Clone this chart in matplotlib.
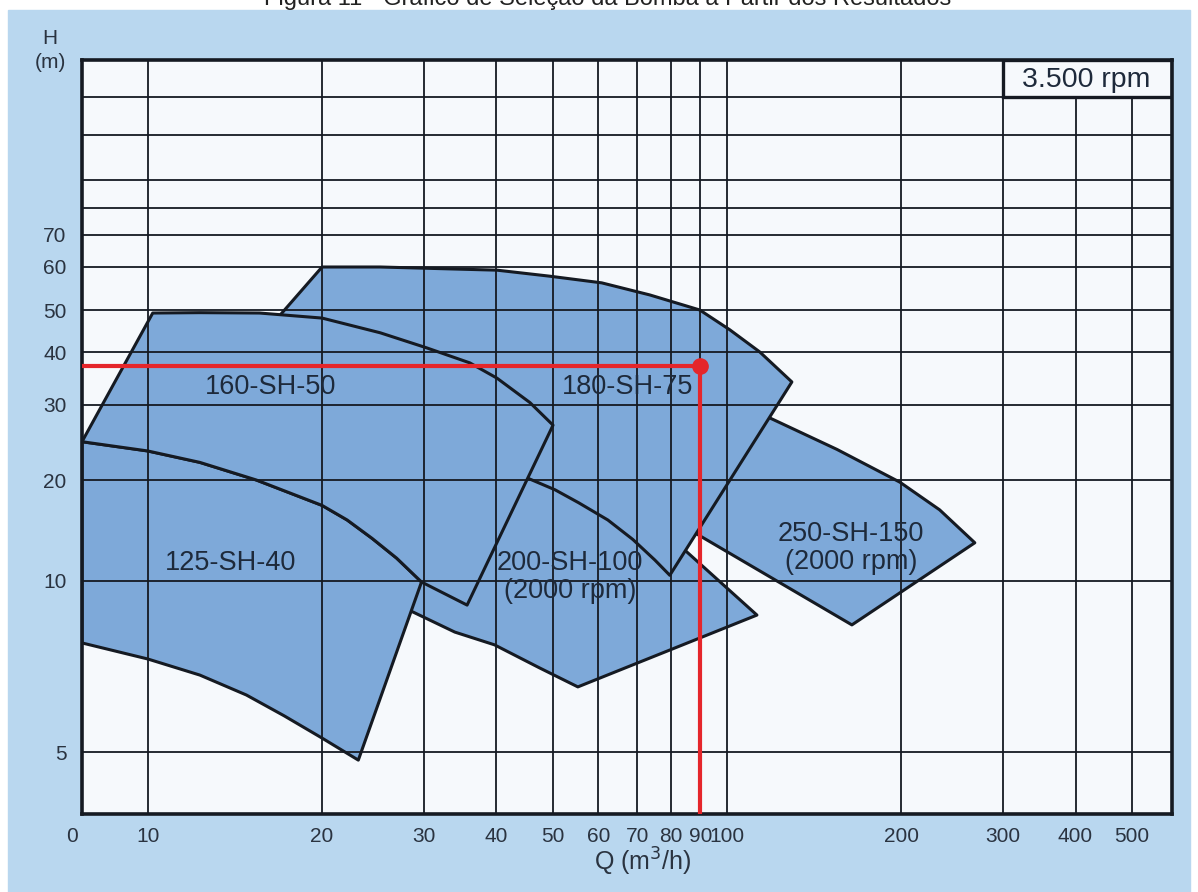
import numpy as np
import matplotlib.pyplot as plt
from matplotlib.patches import Polygon, Rectangle
from matplotlib.ticker import NullLocator
import matplotlib.transforms as mtransforms

plt.rcParams['font.family'] = ['Liberation Sans', 'DejaVu Sans']

# pump envelopes: Q (m3/h), H (m)
q_125 = [7.7, 10.0, 12.3, 15.4, 20.0, 22.1, 24.4, 26.9, 29.7,
         23.1, 20.0, 17.2, 14.8, 12.3, 10.0, 7.7]
h_125 = [24.6, 23.4, 22.0, 20.0, 16.8, 15.2, 13.4, 11.7, 9.96,
         4.84, 5.29, 5.79, 6.3, 6.83, 7.29, 7.78]

q_160 = [7.7, 10.2, 12.3, 15.6, 20.0, 25.2, 30.3, 36.0, 40.1, 45.7, 50.1,
         35.6, 29.7, 26.9, 24.4, 22.1, 20.0, 15.4, 12.3, 10.0]
h_160 = [24.6, 49.2, 49.3, 49.2, 47.9, 44.3, 40.9, 37.7, 34.7, 30.4, 26.9,
         9.07, 9.96, 11.7, 13.4, 15.2, 16.8, 20.0, 22.0, 23.4]

q_180 = [20.0, 25.2, 40.1, 49.5, 60.8, 73.6, 89.8, 101.2, 114.0, 129.5,
         79.7, 75.1, 68.8, 62.3, 55.5, 50.5, 45.3, 33.2, 12.6]
h_180 = [60.0, 60.0, 59.2, 57.7, 56.1, 53.3, 50.0, 45.0, 40.0, 34.0,
         10.4, 11.55, 13.3, 15.2, 17.1, 18.7, 20.2, 24.8, 30.8]

q_200 = [27.2, 27.2, 51.5, 84.0, 112.7, 55.3, 47.5, 39.7, 33.9, 28.7]
h_200 = [9.0, 21.1, 21.1, 12.5, 8.71, 6.51, 7.03, 7.72, 8.13, 8.82]

q_250 = [107.4, 154.9, 199.0, 233.0, 268.0, 164.4, 86.3]
h_250 = [29.8, 23.6, 19.7, 16.3, 13.0, 8.37, 14.2]

# operating point
q_op = 90
h_op = 37

# axis ticks
q_ticks = [10, 20, 30, 40, 50, 60, 70, 80, 90, 100, 200, 300, 400, 500]
h_ticks = [5, 10, 20, 30, 40, 50, 60, 70]
h_extra = [80, 100, 150, 200]
q_lim = (7.7, 587)
h_lim = (3.9, 300)

# the printed H scale is not a clean log scale, so map it piecewise
h_scale_vals = [3.9, 5, 10, 20, 30, 40, 50, 60, 70, 80, 100, 150, 200, 300]
h_scale_pos = [0, 62, 233, 334, 409, 462, 504, 547, 579, 606, 634, 679, 717, 754]
h_scale_log = np.log10(h_scale_vals)


def h_fwd(v):
    v = np.clip(np.asarray(v, dtype=float), 1e-6, None)
    return np.interp(np.log10(v), h_scale_log, h_scale_pos)


def h_inv(p):
    return 10 ** np.interp(np.asarray(p, dtype=float), h_scale_pos, h_scale_log)


ink = '#151a22'
fill = '#7ea9d9'
txt = '#1e2a3b'

fig = plt.figure(figsize=(11.98, 8.92), dpi=100, facecolor='white')
# light blue page behind the chart
fig.patches.append(Rectangle((8 / 1198, 0), 1182 / 1198, 882 / 892,
                             transform=fig.transFigure, color='#b9d7ef', zorder=-5))
fig.text(0.507, 1 - 5 / 892, 'Figura 11 - Gráfico de Seleção da Bomba a Partir dos Resultados',
         ha='center', va='baseline', fontsize=17, color='#222222')

ax = fig.add_axes([82 / 1198, 78 / 892, 1090 / 1198, 754 / 892])
ax.set_facecolor('#f6f9fc')
ax.set_xscale('log')
ax.set_yscale('function', functions=(h_fwd, h_inv))
ax.set_xlim(*q_lim)
ax.set_ylim(*h_lim)

# envelopes, back to front so hidden edges get covered
for qs, hs, z in [(q_250, h_250, 1.0), (q_200, h_200, 1.1), (q_180, h_180, 1.2),
                  (q_125, h_125, 1.3), (q_160, h_160, 1.4)]:
    ax.add_patch(Polygon(np.column_stack([qs, hs]), closed=True, facecolor=fill,
                         edgecolor=ink, linewidth=2.2, joinstyle='round', zorder=z))

# ticks and grid
ax.set_xticks([q_lim[0]] + q_ticks, ['0'] + [str(t) for t in q_ticks])
ax.xaxis.set_minor_locator(NullLocator())
ax.set_yticks(h_ticks, [str(t) for t in h_ticks])
ax.set_yticks(h_extra, minor=True)
ax.set_axisbelow(False)
ax.grid(True, which='major', axis='x', color=ink, linewidth=1.3)
ax.grid(True, which='both', axis='y', color=ink, linewidth=1.3)
ax.tick_params(which='both', length=0, labelsize=15, colors='#2a3340')
ax.tick_params(axis='x', pad=9)
ax.tick_params(axis='y', pad=11)
lab0 = ax.get_xticklabels()[0]
lab0.set_transform(lab0.get_transform() +
                   mtransforms.ScaledTranslation(-10 / 100, 0, fig.dpi_scale_trans))

for s in ax.spines.values():
    s.set_linewidth(2.6)
    s.set_color(ink)
    s.set_zorder(6)

# rpm box in the corner
ax.add_patch(Rectangle((300, 200), q_lim[1] - 300, h_lim[1] - 200, facecolor='#f6f9fc',
                       edgecolor=ink, linewidth=2.4, zorder=3))
ax.text(417, 241, '3.500 rpm', ha='center', va='center', fontsize=20.5, color=txt, zorder=4)

# envelope labels
lab_kw = dict(ha='center', va='center', fontsize=19.5, color=txt, zorder=5, linespacing=1.1)
ax.text(16.3, 33.1, '160-SH-50', **lab_kw)
ax.text(13.9, 11.3, '125-SH-40', **lab_kw)
ax.text(67.5, 33.1, '180-SH-75', **lab_kw)
ax.text(53.6, 10.3, '200-SH-100\n(2000 rpm)', **lab_kw)
ax.text(163.8, 12.5, '250-SH-150\n(2000 rpm)', **lab_kw)

# operating point lines
red = '#e5262b'
ax.plot([q_lim[0], q_op], [h_op, h_op], color=red, linewidth=3, zorder=7, clip_on=False,
        solid_capstyle='butt')
ax.plot([q_op, q_op], [h_op, h_lim[0]], color=red, linewidth=3, zorder=7, clip_on=False,
        solid_capstyle='butt')
ax.plot([q_op], [h_op], 'o', color=red, markersize=11, zorder=8)

# axis titles
fig.text(50 / 1198, 1 - 38 / 892, 'H', ha='center', va='center', fontsize=15, color='#2a3340')
fig.text(50 / 1198, 1 - 62 / 892, '(m)', ha='center', va='center', fontsize=15, color='#2a3340')
fig.text(643 / 1198, 1 - 862 / 892, 'Q (m$^3$/h)', ha='center', va='center', fontsize=18,
         color='#2a3340')

fig.savefig('out.png', dpi=100, facecolor=fig.get_facecolor())
